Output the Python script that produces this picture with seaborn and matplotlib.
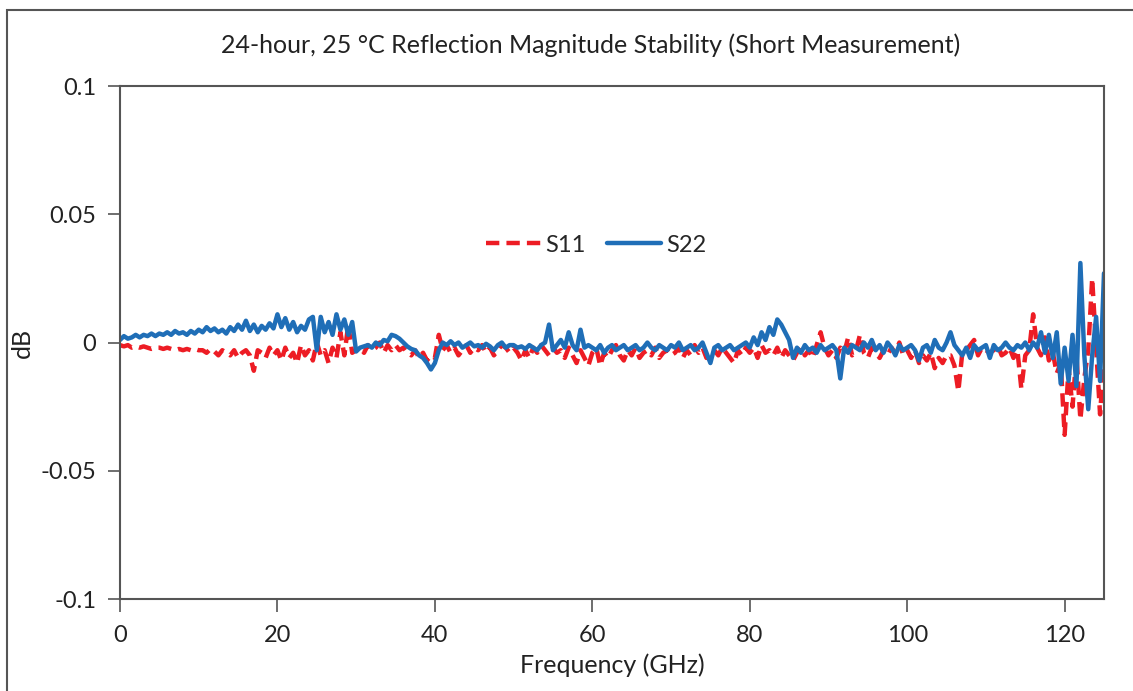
import numpy as np
import pandas as pd
import matplotlib
matplotlib.use('Agg')
import matplotlib.pyplot as plt
import seaborn as sns
from matplotlib.patches import Rectangle

# Frequency grid in GHz (0.5 GHz steps, 0..125)
freq = np.arange(0, 125.5, 0.5)

# values, in milli-dB (1 = 0.001 dB)
s22_mdb = [
    1, 2.5, 1.5, 2, 3, 2, 3, 2.5, 3.5, 2.5, 3.5,
    3, 4, 3, 4.5, 3.5, 4, 3, 4.5, 3.5, 5,
    4, 6, 4.5, 5.5, 4, 5, 3.5, 6, 4.5, 7,
    5, 8.5, 4.5, 7, 4, 6.5, 5, 7.5, 5.5, 11,
    6, 9.5, 5, 8, 4, 6.5, 5, 9, 10, -3,
    10, 4, 8, 3, 11, 5, 9, 3, 8, -3.5,
    -2, -1.5, -1, -2, 0, -1, 1, 0.5, 3, 2.5,
    1.5, 0, -1.5, -2.5, -3, -5, -6, -8, -10.5, -8,
    -3, 0, -1, 0.5, -1, 0, -2, -1, 0, -1.5,
    -1, -2, -0.5, -1.5, -3, -1, 0, -2, -1, -1,
    -2, -1.5, -2.5, -1, -2, -3, -1, 0, 7, -3,
    -1, 1, -2, 4, -1, -3, 5, -2, -1, -2,
    -3, -1, -4, -2, -1, -3, -2, -1, -3, -2,
    -1, -3, -2, 0, -2, -3, -1, -2, -3, -1,
    -2, 0, -3, -2, -1, -3, -2, 0, -4, -8,
    -2, -1, -3, -2, -1, -3, -2, -1, 0, -2,
    2, -1, 4, 1, 6, 3, 9, 7, 4, 1,
    -6, -2, -4, -1, -3, -2, -4, -1, -3, -2,
    -1, -3, -14, -2, -4, -1, -2, -3, 0, -2,
    1, -3, -1, -4, 0, -2, -5, -1, -3, -2,
    -1, -3, -7, -2, -1, -4, 1, -2, -3, 0,
    4, -1, -3, -5, -2, -6, -1, -3, -2, -1,
    -6, -1, -3, -2, 0, -2, -3, -1, -2, 0,
    -3, 0, -2, 4, -4, 3, -6, 4, -16, -2,
    -15, 3, -17, 31, -5, -26, -5, 10, -15, 27,
]

s11_mdb = [
    -1, -1.5, -1, -2, -1.5, -2, -1.5, -2, -2.5, -2, -2,
    -2.5, -2, -2.5, -3, -2.5, -3, -2.5, -3, -2.5, -3,
    -3, -4, -2.5, -3.5, -5, -3, -4, -5, -3, -6,
    -4, -3, -5, -11, -3, -4, -6, -2, -5, -3,
    -7, -2, -6, -4, -8, -1, -5, -3, -7, 0,
    -5, -3, -8, -2, -6, 4, -5, 7, -4, -3,
    -2, -4, -1, -3, -2, 0, -4, -1, -3, -1,
    -3, -2, -4, -5, -3, -6, -4, -7, -5, -6,
    3, -3, -1, -4, -2, -5, -3, -1, -4, -2,
    -3, -1, -4, -2, -5, -3, -1, -2, -4, -2,
    -4, -7, -3, -6, -2, -4, -1, -3, -5, -2,
    -4, -3, -6, -2, -5, -8, -3, -6, -9, -4,
    -2, -9, -4, -6, -3, -1, -5, -7, -3, -5,
    -2, -6, -4, -3, -5, -2, -6, -4, -3, -5,
    -4, -2, -6, -3, -5, -1, -4, -2, -6, -4,
    -3, -5, -2, -4, -6, -8, -3, -5, -2, -4,
    -2, -6, -1, -4, -3, -5, -2, -6, -3, -5,
    -7, -4, -2, -5, -3, -6, -1, 4, -2, -5,
    -3, -6, -2, -4, 2, -5, -3, 3, -4, -6,
    -2, -4, -6, -3, -5, -2, -4, 0, -5, -3,
    -6, -3, -8, -5, -7, -4, -10, -6, -8, -5,
    -5, -9, -19, -4, -3, -1, 1, -5, -2, -3,
    -4, -3, -1, -5, -4, -2, -6, -3, -18, -5,
    -3, 11, -2, -5, 2, -7, -4, -12, -8, -36,
    -10, -25, -5, -30, -14, -3, 25, -2, -28, -6,
]

x_ticks = [0, 20, 40, 60, 80, 100, 120]
y_ticks = [-0.1, -0.05, 0, 0.05, 0.1]
y_labels = ['-0.1', '-0.05', '0', '0.05', '0.1']

df = pd.DataFrame({
    'Frequency': np.concatenate([freq, freq]),
    'dB': np.concatenate([np.array(s11_mdb), np.array(s22_mdb)]) / 1000.0,
    'Port': ['S11'] * len(freq) + ['S22'] * len(freq),
})

sns.set_style('white')
plt.rcParams['font.family'] = ['Lato', 'DejaVu Sans']

fig = plt.figure(figsize=(11.33, 6.91), dpi=100)
ax = fig.add_axes([0.1059, 0.1331, 0.8685, 0.7424])

red = '#ED1C24'
blue = '#1F6EB7'
sns.lineplot(data=df[df['Port'] == 'S11'], x='Frequency', y='dB', ax=ax,
             color=red, linewidth=3.2, linestyle=(0, (3, 1.6)), label='S11')
sns.lineplot(data=df[df['Port'] == 'S22'], x='Frequency', y='dB', ax=ax,
             color=blue, linewidth=3.2, label='S22')

ax.set_xlim(0, 125)
ax.set_ylim(-0.1, 0.1)
ax.set_xticks(x_ticks)
ax.set_yticks(y_ticks)
ax.set_yticklabels(y_labels)
ax.tick_params(axis='both', direction='out', length=9, width=1.2, color='#555555',
               labelsize=17, labelcolor='#222222', pad=8, left=True, bottom=True)
ax.tick_params(axis='x', pad=10)
for sp in ax.spines.values():
    sp.set_color('#555555')
    sp.set_linewidth(1.5)

ax.set_xlabel('Frequency (GHz)', fontsize=18, color='#222222', labelpad=5)
ax.set_ylabel('dB', fontsize=18, color='#222222')
ax.yaxis.set_label_coords(-0.088, 0.5)
fig.text(0.521, 0.935, '24-hour, 25 °C Reflection Magnitude Stability (Short Measurement)',
         ha='center', va='center', fontsize=18, color='#222222')

leg = ax.legend(loc='center', bbox_to_anchor=(0.484, 0.69), ncol=2, frameon=False,
                fontsize=17, handlelength=2.3, handletextpad=0.2, columnspacing=0.9)

# frame around the whole picture
fig.patches.append(Rectangle((7 / 1133, -0.05), 1.1, 1 - 10 / 691 + 0.05,
                             transform=fig.transFigure, fill=False,
                             edgecolor='#555555', linewidth=1.5))

plt.savefig('out.png', dpi=100)
